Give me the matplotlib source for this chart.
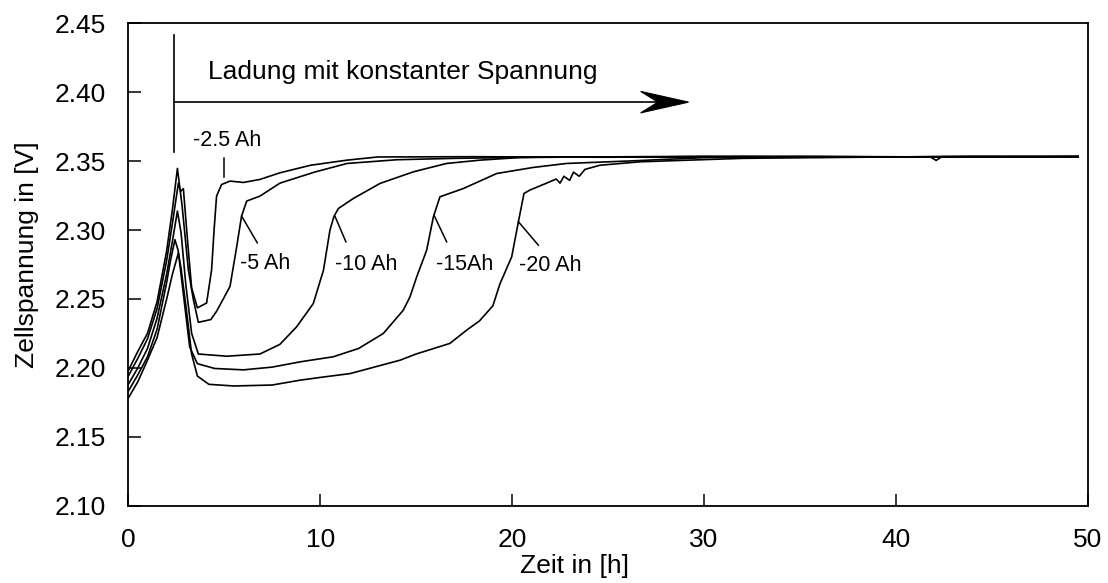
import numpy as np
import matplotlib.pyplot as plt
from matplotlib.patches import Polygon

plt.rcParams['font.family'] = ['Liberation Sans', 'DejaVu Sans']

# Zeit [h] / Zellspannung [V]
t_25 = [0, 0.5, 1.0, 1.5, 2.0, 2.3, 2.61, 2.72, 2.87, 3.1, 3.3, 3.6, 4.08, 4.34, 4.47,
        4.6, 4.86, 5.3, 6.0, 6.86, 7.9, 9.5, 11.4, 13.0, 18, 25, 32, 38, 44, 49.5]
u_25 = [2.194, 2.207, 2.221, 2.243, 2.278, 2.305, 2.334, 2.328, 2.330, 2.290, 2.258, 2.2435,
        2.247, 2.271, 2.300, 2.3246, 2.333, 2.3355, 2.3345, 2.3367, 2.3415, 2.347, 2.3507,
        2.353, 2.3532, 2.3528, 2.3535, 2.353, 2.3532, 2.3535]

t_5 = [0, 0.5, 1.0, 1.5, 2.0, 2.3, 2.56, 2.8, 3.13, 3.39, 3.65, 4.3, 4.6, 5.3, 5.65,
       5.9, 6.17, 6.86, 7.9, 9.7, 11.4, 14, 17, 22, 28, 35, 42, 49.5]
u_5 = [2.198, 2.212, 2.225, 2.248, 2.285, 2.315, 2.3447, 2.318, 2.271, 2.2495, 2.233,
       2.235, 2.241, 2.259, 2.288, 2.310, 2.321, 2.3246, 2.334, 2.342, 2.3483, 2.351,
       2.352, 2.353, 2.3528, 2.3535, 2.353, 2.3532]

t_10 = [0, 0.5, 1.0, 1.5, 2.0, 2.3, 2.56, 2.75, 3.0, 3.3, 3.65, 5.13, 6.86, 7.9, 8.77,
        9.64, 10.17, 10.51, 10.72, 10.95, 11.73, 13.12, 14.85, 16.59, 18.33, 20.4, 24,
        30, 36, 42, 49.5]
u_10 = [2.188, 2.200, 2.214, 2.236, 2.268, 2.292, 2.3137, 2.298, 2.260, 2.225, 2.210,
        2.2084, 2.210, 2.217, 2.2297, 2.2466, 2.2708, 2.300, 2.310, 2.3156, 2.3229,
        2.3338, 2.3422, 2.3483, 2.3507, 2.3526, 2.353, 2.3535, 2.3528, 2.3532, 2.353]

t_15 = [0, 0.5, 1.0, 1.5, 2.0, 2.2, 2.43, 2.6, 2.9, 3.2, 3.6, 4.5, 6.0, 7.5, 8.95, 10.68,
        12.0, 13.29, 14.33, 14.68, 15.03, 15.55, 15.9, 16.24, 17.46, 19.2, 21.1, 22.84,
        26.3, 30, 36, 41.8, 42.1, 42.4, 49.5]
u_15 = [2.183, 2.195, 2.208, 2.228, 2.262, 2.278, 2.293, 2.285, 2.250, 2.215, 2.203,
        2.1995, 2.1985, 2.2005, 2.2043, 2.208, 2.214, 2.2249, 2.2418, 2.2515, 2.266,
        2.2854, 2.3096, 2.3241, 2.3301, 2.341, 2.3454, 2.3483, 2.3502, 2.3525, 2.3532,
        2.353, 2.3505, 2.3532, 2.3535]

t_20 = [0, 0.5, 1.0, 1.5, 2.0, 2.3, 2.61, 2.75, 3.0, 3.3, 3.6, 4.2, 5.5, 7.5, 8.95, 10.0,
        11.56, 14.16, 15.0, 16.76, 17.63, 18.3, 19.0, 19.37, 19.98, 20.33, 20.62, 20.93,
        21.97, 22.3, 22.5, 22.7, 23.0, 23.2, 23.5, 23.8, 24.58, 26.67, 32, 38, 44, 49.5]
u_20 = [2.178, 2.190, 2.2055, 2.222, 2.250, 2.268, 2.2834, 2.272, 2.245, 2.210, 2.194,
        2.188, 2.1868, 2.1875, 2.191, 2.193, 2.1958, 2.2055, 2.210, 2.2177, 2.2273, 2.234,
        2.245, 2.261, 2.2805, 2.306, 2.3265, 2.329, 2.335, 2.337, 2.334, 2.339, 2.336,
        2.342, 2.339, 2.344, 2.347, 2.3495, 2.352, 2.3528, 2.3535, 2.353]

curves = [(t_25, u_25), (t_5, u_5), (t_10, u_10), (t_15, u_15), (t_20, u_20)]

# label text, text position, pointer start (on curve), pointer end
labels = [
    ('-2.5 Ah', (5.13, 2.3653), (4.97, 2.3385), (4.97, 2.352)),
    ('-5 Ah', (7.12, 2.276), (5.91, 2.310), (6.72, 2.2907)),
    ('-10 Ah', (12.4, 2.2752), (10.77, 2.310), (11.34, 2.2914)),
    ('-15Ah', (17.55, 2.2752), (15.93, 2.3108), (16.59, 2.2914)),
    ('-20 Ah', (21.98, 2.2745), (20.33, 2.306), (21.37, 2.289)),
]

fig = plt.figure(figsize=(11.08, 5.83), dpi=100)
ax = fig.add_axes([0.1158, 0.1328, 0.8659, 0.8272])

for t, u in curves:
    ax.plot(t, u, color='black', lw=1.2)

for txt, pos, p0, p1 in labels:
    ax.plot([p0[0], p1[0]], [p0[1], p1[1]], color='black', lw=1.1)
    ax.text(pos[0], pos[1], txt, fontsize=15.5, ha='center', va='center')

# Ladung mit konstanter Spannung: marker line plus arrow with notched head
x0, x_tip, y_arr = 2.38, 29.2, 2.3928
ax.plot([x0, x0], [2.4415, 2.3565], color='black', lw=1.2)
ax.plot([x0, x_tip - 1.0], [y_arr, y_arr], color='black', lw=1.2)
head = Polygon([(x_tip, y_arr), (x_tip - 2.5, y_arr + 0.0078),
                (x_tip - 1.6, y_arr), (x_tip - 2.5, y_arr - 0.0078)],
               closed=True, facecolor='black', edgecolor='black', lw=0.8)
ax.add_patch(head)
ax.text(4.15, 2.4146, 'Ladung mit konstanter Spannung', fontsize=19,
        ha='left', va='center')

ax.set_xlim(0, 50)
ax.set_ylim(2.10, 2.45)
ax.set_xticks(np.arange(0, 51, 10))
ax.set_yticks(np.arange(2.10, 2.451, 0.05))
ax.set_yticklabels([f'{v:.2f}' for v in np.arange(2.10, 2.451, 0.05)])
ax.tick_params(direction='in', length=9, width=1.1, labelsize=19, pad=16,
               top=False, right=False)
for s in ax.spines.values():
    s.set_linewidth(1.3)

ax.set_xlabel('Zeit in [h]', fontsize=19, labelpad=2)
ax.xaxis.set_label_coords(0.465, -0.1)
ax.set_ylabel('Zellspannung in [V]', fontsize=19)
ax.yaxis.set_label_coords(-0.093, 0.52)

fig.savefig('out.png', dpi=100)
